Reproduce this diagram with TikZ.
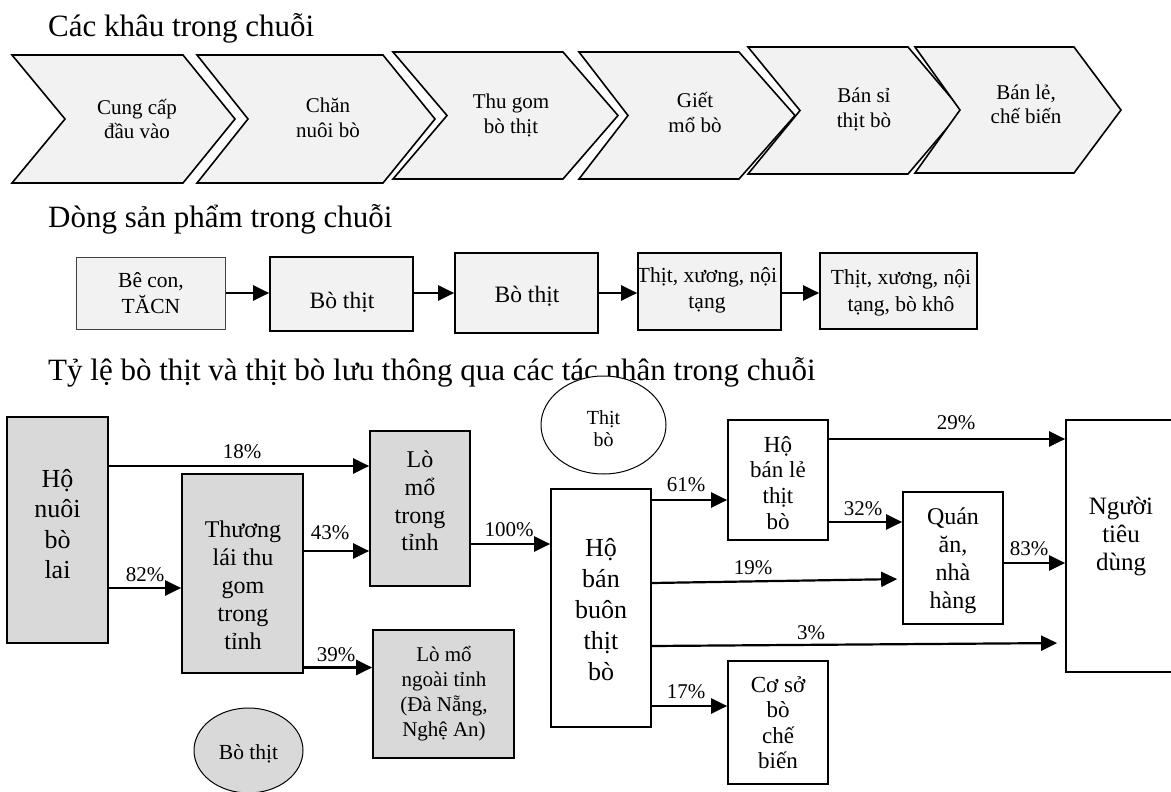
\documentclass[tikz,border=0pt]{standalone}
\usepackage{fontspec}
\setmainfont{Liberation Serif}
\usetikzlibrary{arrows.meta,shapes.geometric}
\definecolor{lightf}{HTML}{F2F2F2}
\definecolor{grayf}{HTML}{D9D9D9}
\newcommand\fsz[2]{\fontsize{#1}{#2}\selectfont}
\newcommand\tS{\rule{0pt}{0.95em}}
\newcommand\bS{\rule[-0.25em]{0pt}{0pt}}
\tikzset{
  chev/.style={draw=black, fill=lightf, line width=1.6pt, line join=miter},
  pbox/.style={draw=black, fill=lightf, line width=1.7pt, inner sep=0pt, rectangle},
  gbox/.style={draw=black, fill=grayf, line width=1.7pt, inner sep=0pt, rectangle},
  wbox/.style={draw=black, fill=white, line width=1.7pt, inner sep=0pt, rectangle},
  oval/.style={draw=black, line width=1pt, ellipse, inner sep=0pt},
  arr/.style={line width=2.2pt, -{Triangle[length=16pt,width=15pt]}},
  lbl/.style={inner sep=0pt, anchor=base, font=\fsz{21}{24}},
  ttl/.style={inner sep=0pt, anchor=base west, font=\fsz{31}{36}},
  txt/.style={inner sep=0pt, align=center},
}
\begin{document}
\begin{tikzpicture}[x=1pt,y=-1pt]
\useasboundingbox (0,0) rectangle (1171,792);

% ---------- titles
\node[ttl] (t1) at (48,37) {Các khâu trong chuỗi};
\node[ttl] (t2) at (48,227) {Dòng sản phẩm trong chuỗi};
\node[ttl] (t3) at (48,380) {Tỷ lệ bò thịt và thịt bò lưu thông qua các tác nhân trong chuỗi};

% ---------- chevrons
\filldraw[chev] (12,55) -- (183,55) -- (235,119) -- (183,183) -- (12,183) -- (65,119) -- cycle;
\filldraw[chev] (197,55) -- (383,55) -- (435,119) -- (383,183) -- (197,183) -- (248,119) -- cycle;
\filldraw[chev] (393,52) -- (563,52) -- (618,115.5) -- (563,179) -- (393,179) -- (447,115.5) -- cycle;
\filldraw[chev] (579,52) -- (739,52) -- (795,115.5) -- (739,179) -- (579,179) -- (628,115.5) -- cycle;
\filldraw[chev] (748,47) -- (908,47) -- (962,110.5) -- (908,174) -- (748,174) -- (800,110.5) -- cycle;
\filldraw[chev] (915,47) -- (1074,47) -- (1121,110) -- (1074,173) -- (915,173) -- (960,110) -- cycle;

\begin{scope}[every node/.style={txt, font=\fsz{21}{24.5}}]
\node (c1) at (137,119.2) {\tS Cung cấp\\đầu vào\bS};
\node (c2) at (328,117.7) {\tS Chăn\\nuôi bò\bS};
\node (c3) at (511,113.7) {\tS Thu gom\\bò thịt\bS};
\node (c4) at (695,112.7) {\tS Giết\\mổ bò\bS};
\node (c5) at (864,107.7) {\tS Bán sỉ\\thịt bò\bS};
\node (c6) at (1026,104.2) {\tS Bán lẻ,\\chế biến\bS};
\end{scope}

% ---------- product flow
\node[pbox, draw=black!75, line width=1pt, minimum width=149pt, minimum height=72pt] (p1) at (150.5,293) {};
\node[pbox, minimum width=143pt, minimum height=74pt] (p2) at (341.5,294) {};
\node[pbox, minimum width=143pt, minimum height=80pt] (p3) at (526.5,293) {};
\node[pbox, minimum width=143pt, minimum height=77pt] (p4) at (709.5,291.5) {};
\node[pbox, minimum width=157pt, minimum height=76pt] (p5) at (898.5,291) {};

\node[txt, font=\fsz{21.5}{26}] (p1t) at (151,292.5) {\tS Bê con,\\TĂCN\bS};
\node[txt, font=\fsz{23.5}{26}] (p2t) at (342,299.8) {\tS Bò thịt\bS};
\node[txt, font=\fsz{23.5}{26}] (p3t) at (527,293.8) {\tS Bò thịt\bS};
\node[txt, font=\fsz{21.5}{26}] (p4t) at (707,288) {\tS Thịt, xương, nội\\tạng\bS};
\node[txt, font=\fsz{21.5}{27}] (p5t) at (901,290) {\tS Thịt, xương, nội\\tạng, bò khô\bS};

\draw[arr] (p1.east |- 0,293) -- (p2.west |- 0,293);
\draw[arr] (p2.east |- 0,293) -- (p3.west |- 0,293);
\draw[arr] (p3.east |- 0,293) -- (p4.west |- 0,293);
\draw[arr] (p4.east |- 0,293) -- (p5.west |- 0,293);

% ---------- actors
\node[gbox, minimum width=101pt, minimum height=226pt] (hn) at (57.5,530) {};
\node[gbox, minimum width=121pt, minimum height=199pt] (tl) at (242.5,573.5) {};
\node[gbox, minimum width=100pt, minimum height=155pt] (lmt) at (420,508.5) {};
\node[gbox, minimum width=141pt, minimum height=128pt] (lmn) at (443.5,694) {};
\node[wbox, minimum width=100pt, minimum height=238pt] (hbb) at (601,608) {};
\node[wbox, minimum width=100pt, minimum height=120pt] (hbl) at (778,480) {};
\node[wbox, minimum width=100pt, minimum height=132pt] (quan) at (953,558) {};
\node[wbox, minimum width=114pt, minimum height=252pt] (ntd) at (1123,546) {};
\node[wbox, minimum width=100pt, minimum height=123pt] (cs) at (778,722.5) {};
\node[oval, fill=grayf, minimum width=109pt, minimum height=85pt] (eb) at (248.5,750.5) {};
\node[oval, fill=white, minimum width=125pt, minimum height=98pt] (et) at (603.5,425) {};

\node[txt, font=\fsz{26}{30.5}] (hnt) at (57.5,524) {\tS Hộ\\nuôi\\bò\\lai\bS};
\node[txt, font=\fsz{24}{28}] (tlt) at (243,585) {\tS Thương\\lái thu\\gom\\trong\\tỉnh\bS};
\node[txt, font=\fsz{24}{27.7}] (lmtt) at (420,501) {\tS Lò\\mổ\\trong\\tỉnh\bS};
\node[txt, font=\fsz{21}{25}] (lmnt) at (444,692) {\tS Lò mổ\\ngoài tỉnh\\(Đà Nẵng,\\Nghệ An)\bS};
\node[txt, font=\fsz{20}{22}] (ett) at (603.5,428) {\tS Thịt\\bò\bS};
\node[txt, font=\fsz{26}{31}] (hbbt) at (601,609) {\tS Hộ\\bán\\buôn\\thịt\\bò\bS};
\node[txt, font=\fsz{23}{25.7}] (hblt) at (778,482.5) {\tS Hộ\\bán lẻ\\thịt\\bò\bS};
\node[txt, font=\fsz{24}{28}] (quant) at (953,558.5) {\tS Quán\\ăn,\\nhà\\hàng\bS};
\node[txt, font=\fsz{25}{28}] (ntdt) at (1121,533.5) {\tS Người\\tiêu\\dùng\bS};
\node[txt, font=\fsz{23}{25.5}] (cst) at (778,722.5) {\tS Cơ sở\\bò\\chế\\biến\bS};
\node[txt, font=\fsz{21.5}{25}] (ebt) at (248.5,751.5) {\tS Bò thịt\bS};

% ---------- flows
\draw[arr] (hn.east |- 0,466) -- (lmt.west |- 0,466);
\draw[arr] (hn.east |- 0,588) -- (tl.west |- 0,588);
\draw[arr] (tl.east |- 0,551) -- (lmt.west |- 0,551);
\draw[arr] (tl.east |- 0,667.5) -- (lmn.west |- 0,667.5);
\draw[arr] (lmt.east |- 0,544) -- (hbb.west |- 0,544);
\draw[arr] (hbb.east |- 0,500) -- (hbl.west |- 0,500);
\draw[arr, shorten >=5pt] (hbb.east |- 0,583) -- (quan.west |- 0,579);
\draw[arr, shorten >=8pt] (hbb.east |- 0,646) -- (ntd.west |- 0,643);
\draw[arr] (hbb.east |- 0,706) -- (cs.west |- 0,706);
\draw[arr] (hbl.east |- 0,439) -- (ntd.west |- 0,439);
\draw[arr] (hbl.east |- 0,522) -- (quan.west |- 0,522);
\draw[arr] (quan.east |- 0,563) -- (ntd.west |- 0,563);

\node[lbl] (l18) at (242,458) {18\%};
\node[lbl] (l82) at (145,581) {82\%};
\node[lbl] (l43) at (330,539) {43\%};
\node[lbl] (l39) at (336,661) {39\%};
\node[lbl] (l100) at (509,536) {100\%};
\node[lbl] (l61) at (686,491) {61\%};
\node[lbl] (l19) at (753,574) {19\%};
\node[lbl] (l3) at (811,639) {3\%};
\node[lbl] (l17) at (686,698) {17\%};
\node[lbl] (l29) at (956,429) {29\%};
\node[lbl] (l32) at (863,515) {32\%};
\node[lbl] (l83) at (1029,555) {83\%};
\end{tikzpicture}
\end{document}
